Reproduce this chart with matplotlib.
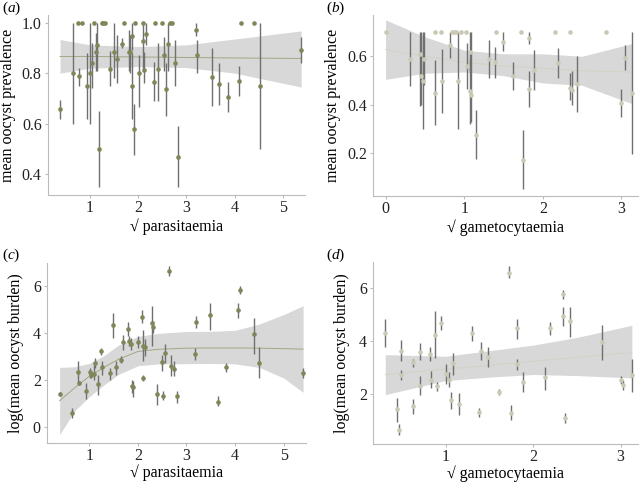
import numpy as np
import matplotlib
matplotlib.use('Agg')
import matplotlib.pyplot as plt

plt.rcParams['font.family'] = ['Liberation Serif', 'DejaVu Serif']
plt.rcParams['mathtext.fontset'] = 'custom'
plt.rcParams['mathtext.it'] = 'Liberation Serif:italic'
plt.rcParams['mathtext.rm'] = 'Liberation Serif'

# panel (a): prevalence vs sqrt parasitaemia
a_x = [0.38, 0.65, 0.78, 0.93, 1.00, 1.05, 1.12, 1.15, 1.19, 1.42, 1.49, 1.57, 1.67, 1.80, 1.83,
       1.87, 1.88, 1.92, 2.02, 2.09, 2.12, 2.16, 2.32, 2.41, 2.53, 2.57, 2.61, 2.76, 2.83, 3.20,
       3.23, 3.53, 3.68, 3.86, 4.09, 4.53, 5.38]
a_y = [0.657, 0.80, 0.787, 0.75, 0.80, 0.84, 0.885, 0.91, 0.50, 0.817, 0.885, 0.857, 0.915, 0.885, 0.885,
       0.945, 0.75, 0.578, 0.80, 0.926, 0.814, 0.953, 0.764, 0.815, 0.872, 0.736, 0.914, 0.84, 0.47, 0.972,
       0.87, 0.784, 0.758, 0.707, 0.77, 0.75, 0.89]
a_lo = [0.62, 0.60, 0.75, 0.62, 0.60, 0.74, 0.81, 0.81, 0.35, 0.75, 0.78, 0.76, 0.90, 0.81, 0.80,
        0.89, 0.62, 0.475, 0.665, 0.81, 0.76, 0.91, 0.69, 0.69, 0.81, 0.63, 0.81, 0.75, 0.35, 0.945,
        0.80, 0.67, 0.675, 0.645, 0.71, 0.50, 0.84]
a_hi = [0.695, 1.0, 0.82, 0.88, 1.0, 0.92, 0.96, 1.0, 0.65, 0.886, 1.0, 0.952, 0.938, 0.97, 0.95,
        1.0, 0.88, 0.677, 0.873, 1.0, 0.884, 1.0, 0.846, 0.92, 0.943, 0.84, 1.0, 0.93, 0.59, 1.0,
        0.93, 0.898, 0.84, 0.765, 0.83, 1.0, 0.943]
a_top = [0.76, 0.84, 1.09, 1.24, 1.28, 1.31, 1.70, 1.93, 2.09, 2.35, 2.49, 2.67, 2.71, 4.13, 4.40]
a_fx = [0.38, 1.0, 2.0, 3.0, 4.0, 5.38]
a_fy = [0.866, 0.866, 0.864, 0.862, 0.86, 0.858]
a_flo = [0.80, 0.82, 0.826, 0.822, 0.80, 0.745]
a_fhi = [0.933, 0.912, 0.905, 0.912, 0.935, 0.967]

# panel (b): prevalence vs sqrt gametocytaemia
b_x = [0.31, 0.44, 0.45, 0.47, 0.49, 0.63, 0.72, 0.82, 0.92, 1.04, 1.07, 1.07, 1.09, 1.15, 1.31,
       1.39, 1.49, 1.62, 1.75, 1.82, 1.82, 1.89, 2.19, 2.35, 2.37, 2.43, 3.00, 3.04, 3.14]
b_y = [0.59, 0.61, 0.52, 0.50, 0.59, 0.45, 0.50, 0.648, 0.50, 0.56, 0.618, 0.457, 0.44, 0.277, 0.59,
       0.577, 0.66, 0.517, 0.174, 0.677, 0.467, 0.545, 0.573, 0.47, 0.462, 0.487, 0.407, 0.594, 0.45]
b_lo = [0.476, 0.394, 0.40, 0.30, 0.48, 0.318, 0.366, 0.593, 0.30, 0.465, 0.53, 0.32, 0.33, 0.178, 0.51,
        0.51, 0.62, 0.46, 0.054, 0.65, 0.39, 0.46, 0.51, 0.42, 0.40, 0.37, 0.35, 0.543, 0.198]
b_hi = [0.70, 0.70, 0.70, 0.70, 0.70, 0.583, 0.63, 0.70, 0.70, 0.655, 0.70, 0.59, 0.70, 0.378, 0.665,
        0.64, 0.70, 0.577, 0.295, 0.70, 0.54, 0.627, 0.635, 0.53, 0.54, 0.60, 0.463, 0.645, 0.70]
b_top = [0.0, 0.63, 0.71, 0.84, 0.87, 0.90, 0.96, 1.02, 1.41, 1.72, 2.15, 2.35, 2.80]
b_top_y = 0.70
b_fx = [0.0, 0.5, 1.0, 1.5, 2.0, 2.5, 3.13]
b_fy = [0.627, 0.60, 0.575, 0.56, 0.55, 0.54, 0.535]
b_flo = [0.505, 0.53, 0.535, 0.52, 0.49, 0.48, 0.405]
b_fhi = [0.75, 0.68, 0.625, 0.61, 0.61, 0.60, 0.652]

# panel (c): log burden vs sqrt parasitaemia
c_x = [0.39, 0.65, 0.76, 0.79, 0.93, 1.01, 1.03, 1.09, 1.12, 1.18, 1.25, 1.27, 1.42, 1.48, 1.56,
       1.66, 1.69, 1.79, 1.82, 1.86, 1.87, 1.90, 2.01, 2.08, 2.10, 2.10, 2.14, 2.30, 2.32, 2.39,
       2.49, 2.51, 2.55, 2.65, 2.69, 2.74, 2.81, 3.17, 3.20, 3.49, 3.64, 3.82, 4.06, 4.10, 4.38,
       4.49, 5.40]
c_y = [1.42, 0.62, 2.35, 1.89, 1.53, 2.34, 2.24, 2.27, 2.74, 1.84, 3.23, 2.57, 2.31, 4.35, 2.57,
       2.88, 3.63, 4.18, 3.66, 3.56, 1.74, 1.72, 3.62, 4.71, 3.45, 2.10, 3.42, 4.44, 4.26, 1.42,
       2.78, 1.35, 3.16, 6.64, 2.62, 2.50, 1.32, 3.13, 4.48, 4.77, 1.08, 2.55, 4.98, 5.83, 3.97,
       2.74, 2.31]
c_lo = [1.32, 0.40, 1.90, 1.80, 1.21, 2.12, 2.10, 2.03, 2.53, 1.39, 3.09, 2.24, 2.03, 3.80, 2.24,
        2.74, 3.30, 3.89, 3.45, 3.30, 1.46, 1.31, 3.38, 4.45, 2.81, 1.99, 3.05, 3.45, 4.02, 0.97,
        2.38, 1.17, 2.74, 6.46, 2.17, 2.20, 1.04, 2.88, 4.23, 4.16, 0.89, 2.35, 4.67, 5.66, 3.12,
        2.09, 2.09]
c_hi = [1.52, 0.83, 2.81, 1.98, 1.88, 2.52, 2.38, 2.67, 2.95, 2.24, 3.37, 2.81, 2.52, 4.87, 2.81,
        3.02, 3.95, 4.47, 3.87, 3.80, 2.02, 1.96, 3.87, 4.98, 4.16, 2.23, 3.76, 5.15, 4.52, 1.86,
        3.09, 1.53, 3.55, 6.88, 3.09, 2.83, 1.53, 3.37, 4.75, 5.29, 1.32, 2.74, 5.30, 6.01, 4.65,
        3.40, 2.52]
c_fx = [0.39, 0.7, 1.0, 1.3, 1.6, 2.0, 2.4, 3.0, 3.5, 4.0, 4.5, 5.0, 5.40]
c_fy = [1.13, 1.68, 2.17, 2.55, 2.9, 3.23, 3.32, 3.37, 3.38, 3.38, 3.37, 3.35, 3.33]
c_flo = [-0.31, 0.70, 1.30, 1.80, 2.25, 2.62, 2.70, 2.71, 2.72, 2.70, 2.55, 2.10, 1.49]
c_fhi = [2.55, 2.58, 2.72, 3.05, 3.50, 3.87, 4.00, 4.08, 4.09, 4.13, 4.40, 4.80, 5.18]

# panel (d): log burden vs sqrt gametocytaemia
d_x = [0.31, 0.45, 0.47, 0.49, 0.49, 0.63, 0.63, 0.71, 0.71, 0.82, 0.83, 0.88, 0.90, 0.95, 1.00,
       1.04, 1.06, 1.09, 1.15, 1.30, 1.40, 1.38, 1.49, 1.61, 1.72, 1.75, 1.82, 1.82, 1.88, 2.14,
       2.19, 2.34, 2.34, 2.37, 2.42, 2.79, 3.00, 3.03, 3.13]
d_y = [4.33, 1.43, 0.65, 3.65, 2.75, 3.21, 1.55, 2.31, 3.59, 3.53, 2.55, 4.25, 2.31, 4.71, 2.78,
       2.55, 1.78, 3.18, 1.65, 4.31, 3.65, 1.34, 3.43, 2.09, 6.59, 1.31, 4.50, 3.15, 2.46, 2.65,
       4.50, 5.78, 4.96, 1.11, 4.78, 3.96, 2.55, 2.34, 2.74]
d_lo = [3.78, 0.96, 0.46, 3.25, 2.53, 3.05, 1.25, 1.96, 3.28, 3.25, 2.24, 3.38, 2.12, 4.43, 2.40,
        2.28, 1.46, 2.75, 1.21, 4.03, 3.28, 1.15, 3.03, 1.96, 6.38, 1.03, 4.09, 2.93, 2.09, 2.15,
        4.23, 5.59, 4.59, 0.93, 4.15, 3.28, 2.38, 2.15, 2.09]
d_hi = [4.84, 1.88, 0.88, 4.05, 2.93, 3.34, 1.84, 2.68, 3.93, 3.80, 2.87, 5.15, 2.46, 4.96, 3.15,
        2.84, 2.09, 3.55, 2.06, 4.59, 3.96, 1.50, 3.78, 2.21, 6.84, 1.59, 4.84, 3.34, 2.84, 3.03,
        4.74, 5.96, 5.30, 1.30, 5.30, 4.63, 2.71, 2.53, 3.34]
d_fx = [0.31, 1.0, 1.5, 2.0, 2.5, 3.13]
d_fy = [2.75, 2.95, 3.1, 3.25, 3.4, 3.58]
d_flo = [1.99, 2.52, 2.65, 2.75, 2.71, 2.62]
d_fhi = [3.50, 3.44, 3.65, 3.86, 4.15, 4.61]

olive = '#7f8658'
beige = '#c9c9b6'
barcol = '#707070'
band = '#d8d8d8'

fig = plt.figure(figsize=(6.4, 4.83), dpi=100)
ax_a = fig.add_axes([48/640, 1-195/483, 257/640, 180/483])
ax_b = fig.add_axes([373/640, 1-196/483, 265/640, 181/483])
ax_c = fig.add_axes([47/640, 1-443/483, 259/640, 180/483])
ax_d = fig.add_axes([373/640, 1-444/483, 265/640, 182/483])


def panel(ax, fx, fy, flo, fhi, x, y, lo, hi, col, fitcol, tx=None, ty=None):
    ax.fill_between(fx, flo, fhi, color=band, lw=0, zorder=1)
    ax.plot(fx, fy, color=fitcol, lw=0.7, zorder=2)
    x = np.array(x)
    y = np.array(y)
    err = [y - np.array(lo), np.array(hi) - y]
    ax.errorbar(x, y, yerr=err, fmt='none', ecolor=barcol, elinewidth=1.0, zorder=3)
    ax.scatter(x, y, s=11, color=col, zorder=4, lw=0)
    if tx is not None:
        ax.scatter(tx, ty, s=11, color=col, zorder=4, lw=0)
    for s in ['top', 'right']:
        ax.spines[s].set_visible(False)
    for s in ['left', 'bottom']:
        ax.spines[s].set_color('#bbbbbb')
        ax.spines[s].set_linewidth(0.8)
    ax.tick_params(labelsize=11.5, colors='#bbbbbb', labelcolor='#222222', length=2, width=0.8, pad=2.5)
    ax.tick_params(axis='x', pad=1.5)


panel(ax_a, a_fx, a_fy, a_flo, a_fhi, a_x, a_y, a_lo, a_hi, olive, '#a4a684', a_top, [1.0]*len(a_top))
ax_a.set_xlim(0.13, 5.46)
ax_a.set_ylim(0.318, 1.03)
ax_a.set_xticks([1, 2, 3, 4, 5])
ax_a.set_yticks([0.4, 0.6, 0.8, 1.0])
ax_a.set_yticklabels(['0.4', '0.6', '0.8', '1.0'])
ax_a.set_xlabel('√ parasitaemia', fontsize=11.5, labelpad=2)
ax_a.set_ylabel('mean oocyst prevalence', fontsize=11.5, labelpad=4)

panel(ax_b, b_fx, b_fy, b_flo, b_fhi, b_x, b_y, b_lo, b_hi, beige, '#d2d2c6', b_top, [b_top_y]*len(b_top))
ax_b.set_xlim(-0.16, 3.21)
ax_b.set_ylim(0.024, 0.77)
ax_b.set_xticks([0, 1, 2, 3])
ax_b.set_yticks([0.2, 0.4, 0.6])
ax_b.set_xlabel('√ gametocytaemia', fontsize=11.5, labelpad=2)
ax_b.set_ylabel('mean oocyst prevalence', fontsize=11.5, labelpad=4)

panel(ax_c, c_fx, c_fy, c_flo, c_fhi, c_x, c_y, c_lo, c_hi, olive, '#a4a684')
ax_c.set_xlim(0.13, 5.46)
ax_c.set_ylim(-0.67, 7.0)
ax_c.set_xticks([1, 2, 3, 4, 5])
ax_c.set_yticks([0, 2, 4, 6])
ax_c.set_xlabel('√ parasitaemia', fontsize=11.5, labelpad=0)
ax_c.set_ylabel('log(mean oocyst burden)', fontsize=11.5, labelpad=6)

panel(ax_d, d_fx, d_fy, d_flo, d_fhi, d_x, d_y, d_lo, d_hi, beige, '#d2d2c6')
ax_d.set_xlim(0.17, 3.2)
ax_d.set_ylim(0.125, 7.0)
ax_d.set_xticks([1, 2, 3])
ax_d.set_yticks([2, 4, 6])
ax_d.set_xlabel('√ gametocytaemia', fontsize=11.5, labelpad=0)
ax_d.set_ylabel('log(mean oocyst burden)', fontsize=11.5, labelpad=6)

for lab, (px, py) in zip('abcd', [(2, 8), (326, 8), (2, 255), (326, 255)]):
    fig.text(px/640, 1-py/483, '(' + '$\\it{' + lab + '}$' + ')', fontsize=11, va='center', ha='left')

fig.savefig('out.png', dpi=100)
